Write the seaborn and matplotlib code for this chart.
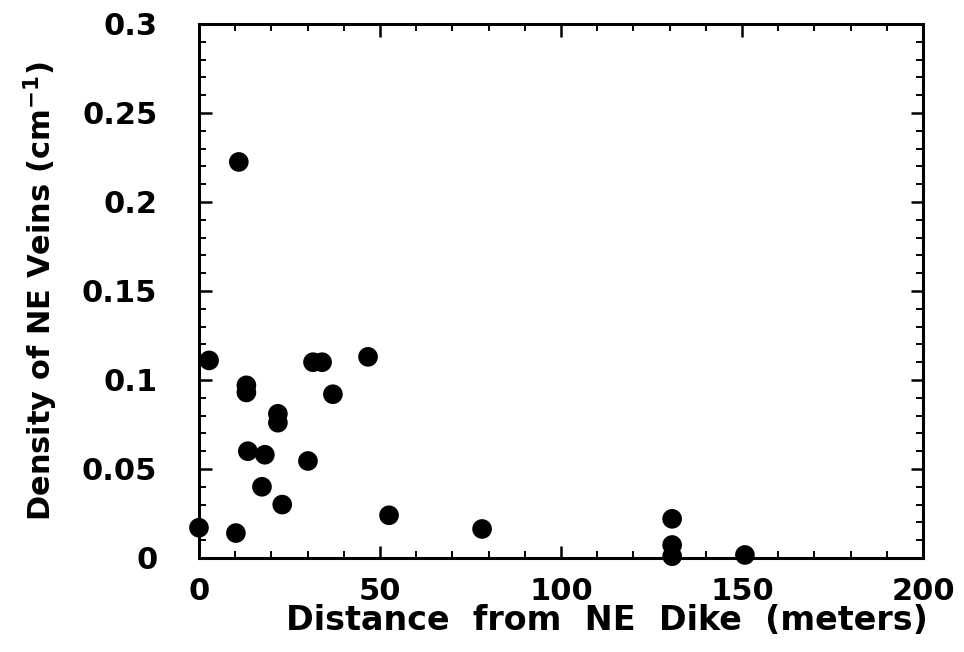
import matplotlib
matplotlib.use("Agg")
import matplotlib.pyplot as plt
import seaborn as sns
import pandas as pd
from matplotlib.ticker import MultipleLocator

distance_m = [0.0, 2.8, 10.2, 11.0, 13.1, 13.1, 13.5, 17.4, 18.2, 21.8, 21.8,
              23.0, 30.1, 31.5, 34.0, 37.0, 46.7, 52.5, 78.2, 130.7, 130.7,
              130.7, 150.8]
density_cm = [0.017, 0.111, 0.014, 0.2225, 0.097, 0.093, 0.060, 0.040, 0.058,
              0.081, 0.076, 0.030, 0.0545, 0.110, 0.110, 0.092, 0.113, 0.024,
              0.0163, 0.022, 0.0073, 0.001, 0.0017]
x_ticks = [0, 50, 100, 150, 200]
y_ticks = [0, 0.05, 0.1, 0.15, 0.2, 0.25, 0.3]
y_tick_labels = ["0", "0.05", "0.1", "0.15", "0.2", "0.25", "0.3"]

df = pd.DataFrame({"distance": distance_m, "density": density_cm})

sns.set_style("ticks")
plt.rcParams["font.family"] = ["DejaVu Sans"]
plt.rcParams["font.weight"] = "bold"
for k in ["text.color", "axes.labelcolor", "xtick.color", "ytick.color",
          "axes.edgecolor"]:
    plt.rcParams[k] = "black"

fig = plt.figure(figsize=(9.64, 6.52), dpi=100)
ax = fig.add_axes([0.2064, 0.1442, 0.7511, 0.8190])

sns.scatterplot(data=df, x="distance", y="density", ax=ax, color="black",
                s=200, edgecolor="none", linewidth=0, clip_on=False, zorder=3)

ax.set_xlim(0, 200)
ax.set_ylim(0, 0.3)
ax.set_xticks(x_ticks)
ax.set_xticklabels([str(v) for v in x_ticks])
ax.set_yticks(y_ticks)
ax.set_yticklabels(y_tick_labels)
ax.xaxis.set_minor_locator(MultipleLocator(10))
ax.yaxis.set_minor_locator(MultipleLocator(0.01))

for s in ax.spines.values():
    s.set_linewidth(2.2)
    s.set_color("black")

ax.tick_params(which="both", direction="in", top=True, right=True, color="black")
ax.tick_params(which="major", length=9, width=1.8)
ax.tick_params(which="minor", length=5, width=1.4)
ax.tick_params(axis="y", which="major", pad=30, labelsize=22)
ax.tick_params(axis="x", which="major", pad=14, labelsize=22)
for lab in ax.get_xticklabels() + ax.get_yticklabels():
    lab.set_fontweight("bold")

ax.set_xlabel("Distance  from  NE  Dike  (meters)", fontsize=24,
              fontweight="bold")
ax.xaxis.set_label_coords(0.5635, -0.118, transform=ax.transAxes)
ax.xaxis.label.set_va("center")
ax.set_ylabel("Density of NE Veins (cm$^{\\mathbf{-1}}$)", fontsize=22,
              fontweight="bold")
ax.yaxis.set_label_coords(-0.218, 0.5, transform=ax.transAxes)
ax.yaxis.label.set_va("center")

fig.savefig("out.png", dpi=100)
